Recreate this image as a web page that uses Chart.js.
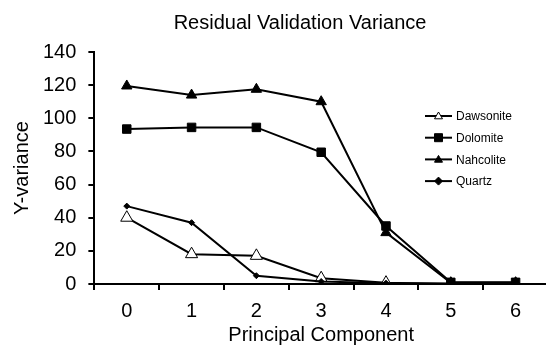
<!DOCTYPE html>
<html>
<head>
<meta charset="utf-8">
<script src="https://cdn.jsdelivr.net/npm/chart.js@4"></script>
<style>
  html, body { margin: 0; padding: 0; background: #fff; overflow: hidden; }
  #wrap { width: 556px; height: 345px; }
</style>
</head>
<body>
<div id="wrap"><canvas id="myChart" width="556" height="345"></canvas></div>
<script>
// Datos
const components = ["0", "1", "2", "3", "4", "5", "6"];
const dawsonite = [40, 18, 17, 3.5, 0.8, 0, 0];
const dolomite = [93.5, 94.5, 94.5, 79.5, 35, 1, 1];
const nahcolite = [119.5, 114, 117.5, 110, 31, 0.8, 0.8];
const quartz = [47, 37, 5, 1.5, 0.5, 0.3, 0.2];
const yTicks = [0, 20, 40, 60, 80, 100, 120, 140];

const fontFam = "Arial, 'Liberation Sans', sans-serif";

// Leyenda dibujada a mano (linea + marcador)
const legendPlugin = {
  id: "legendaLinea",
  afterDraw(chart) {
    const ctx = chart.ctx;
    const area = chart.chartArea;
    const x0 = area.right - 123;
    const x1 = x0 + 27;
    let y = area.top + 64;
    chart.data.datasets.forEach((ds) => {
      ctx.save();
      ctx.strokeStyle = "#000";
      ctx.lineWidth = 2;
      ctx.beginPath();
      ctx.moveTo(x0, y);
      ctx.lineTo(x1, y);
      ctx.stroke();
      const cx = (x0 + x1) / 2;
      const r = ds.legendRadius;
      ctx.fillStyle = ds.pointBackgroundColor;
      ctx.lineWidth = 1;
      ctx.beginPath();
      if (ds.pointStyle === "triangle") {
        ctx.moveTo(cx, y - r);
        ctx.lineTo(cx + r, y + r * 0.7);
        ctx.lineTo(cx - r, y + r * 0.7);
        ctx.closePath();
      } else if (ds.pointStyle === "rect") {
        ctx.rect(cx - r, y - r, 2 * r, 2 * r);
      } else {
        ctx.moveTo(cx, y - r);
        ctx.lineTo(cx + r, y);
        ctx.lineTo(cx, y + r);
        ctx.lineTo(cx - r, y);
        ctx.closePath();
      }
      ctx.fill();
      ctx.stroke();
      ctx.fillStyle = "#000";
      ctx.font = "12px " + fontFam;
      ctx.textBaseline = "middle";
      ctx.textAlign = "left";
      ctx.fillText(ds.label, x1 + 4, y + 1);
      ctx.restore();
      y += 21.7;
    });
  }
};

// Titulo centrado como en la figura original
const titlePlugin = {
  id: "tituloFijo",
  afterDraw(chart) {
    const ctx = chart.ctx;
    ctx.save();
    ctx.fillStyle = "#000";
    ctx.font = "20px " + fontFam;
    ctx.textAlign = "center";
    ctx.textBaseline = "middle";
    ctx.fillText("Residual Validation Variance", 300, 23);
    ctx.restore();
  }
};

const ctx = document.getElementById("myChart").getContext("2d");
const myChart = new Chart(ctx, {
  type: "line",
  data: {
    labels: components,
    datasets: [
      {
        label: "Dawsonite",
        data: dawsonite,
        borderColor: "#000",
        borderWidth: 2,
        pointStyle: "triangle",
        pointRadius: 7,
        pointBackgroundColor: "#fff",
        pointBorderColor: "#000",
        pointBorderWidth: 1,
        legendRadius: 4,
        order: 4,
      },
      {
        label: "Dolomite",
        data: dolomite,
        borderColor: "#000",
        borderWidth: 2,
        pointStyle: "rect",
        pointRadius: 6,
        pointBackgroundColor: "#000",
        pointBorderColor: "#000",
        pointBorderWidth: 1,
        legendRadius: 4,
        order: 2,
      },
      {
        label: "Nahcolite",
        data: nahcolite,
        borderColor: "#000",
        borderWidth: 2,
        pointStyle: "triangle",
        pointRadius: 6,
        pointBackgroundColor: "#000",
        pointBorderColor: "#000",
        pointBorderWidth: 1,
        legendRadius: 4,
        order: 1,
      },
      {
        label: "Quartz",
        data: quartz,
        borderColor: "#000",
        borderWidth: 2,
        pointStyle: "rectRot",
        pointRadius: 3,
        pointBackgroundColor: "#000",
        pointBorderColor: "#000",
        pointBorderWidth: 1,
        legendRadius: 4,
        order: 3,
      },
    ],
  },
  options: {
    responsive: false,
    animation: false,
    layout: { padding: { top: 52, right: 4, left: 10, bottom: -2 } },
    plugins: {
      legend: { display: false },
      title: { display: false },
      tooltip: { enabled: false },
    },
    elements: { line: { tension: 0 } },
    scales: {
      x: {
        offset: true,
        grid: {
          offset: true,
          drawOnChartArea: false,
          drawTicks: true,
          tickLength: 6,
          color: "#000",
          lineWidth: 2,
        },
        border: { color: "#000", width: 2 },
        ticks: { color: "#000", font: { size: 20, family: fontFam }, padding: 9 },
        title: {
          display: true,
          text: "Principal Component",
          color: "#000",
          font: { size: 20, family: fontFam },
          padding: { top: -9, bottom: 0 },
        },
      },
      y: {
        min: 0,
        max: 140,
        afterBuildTicks: (scale) => {
          scale.ticks = yTicks.map((v) => ({ value: v }));
        },
        grid: {
          drawOnChartArea: false,
          drawTicks: true,
          tickLength: 6,
          color: "#000",
          lineWidth: 2,
        },
        border: { color: "#000", width: 2 },
        ticks: { color: "#000", font: { size: 20, family: fontFam }, padding: 12 },
        title: {
          display: true,
          text: "Y-variance",
          color: "#000",
          font: { size: 20, family: fontFam },
          padding: { top: 0, bottom: -3 },
        },
      },
    },
  },
  plugins: [legendPlugin, titlePlugin],
});
</script>
</body>
</html>
